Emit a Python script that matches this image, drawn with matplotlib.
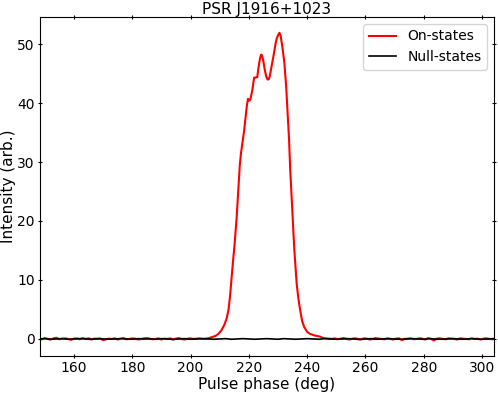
import numpy as np
import matplotlib
matplotlib.use("Agg")
import matplotlib.pyplot as plt

# On-pulse core of the on-state profile (phase in deg, intensity arb.)
core_phase = [206.0, 207.3, 208.5, 209.5, 210.5, 211.6, 212.4, 213.0, 213.5, 213.9,
              214.5, 215.1, 215.8, 216.4, 216.9, 217.3, 217.9, 218.4, 218.8, 219.3,
              219.7, 220.2, 220.5, 221.2, 221.8, 222.1, 222.9, 223.3, 223.8, 224.2,
              224.5, 224.9, 225.4, 225.9, 226.4, 226.8, 227.2, 227.8, 228.6, 229.2,
              229.6, 230.1, 230.5, 230.9, 231.5, 232.2, 232.8, 233.3, 233.8, 234.2,
              234.9, 235.6, 236.4, 237.0, 237.6, 238.3, 239.0, 240.0, 241.0, 242.5,
              244.4, 245.5]
core_on = [0.1, 0.3, 0.5, 0.85, 1.4, 2.4, 3.5, 4.9, 7.0, 9.4,
           12.8, 16.0, 20.5, 25.3, 29.5, 31.5, 33.7, 35.4, 37.2, 39.5,
           40.7, 40.4, 40.6, 42.2, 44.3, 44.3, 44.4, 46.0, 47.5, 48.2,
           48.1, 47.3, 45.8, 44.6, 44.0, 44.0, 44.6, 46.2, 48.4, 50.2,
           51.0, 51.6, 51.9, 51.4, 49.5, 46.7, 42.8, 38.3, 33.7, 28.6,
           21.9, 15.1, 9.4, 6.8, 4.9, 3.0, 2.0, 1.2, 0.85, 0.6,
           0.4, 0.15]

# Off-pulse baseline of the on-state profile, 1 deg steps
left_on = [0.05, -0.05, 0.15, 0.0, -0.1, 0.1, 0.2, -0.05, 0.05, 0.1,
           0.0, -0.15, 0.05, 0.1, -0.05, 0.15, 0.0, 0.1, -0.1, 0.05,
           0.0, 0.1, -0.2, -0.05, 0.05, 0.0, 0.1, -0.1, 0.05, 0.15,
           -0.05, 0.0, 0.1, 0.05, -0.1, 0.0, 0.1, 0.15, 0.05, -0.05,
           0.0, 0.1, -0.1, 0.05, 0.0, 0.1, -0.05, 0.05, 0.15, 0.0,
           -0.1, 0.05, 0.1, 0.0, 0.05, 0.1, 0.0, 0.05]
right_on = [0.1, 0.05, 0.0, 0.1, -0.05, 0.05, 0.15, 0.0, -0.1, 0.05,
            0.1, 0.0, -0.05, 0.1, 0.05, -0.1, 0.0, 0.15, 0.05, 0.0,
            -0.05, 0.1, 0.0, -0.1, 0.05, 0.1, -0.2, 0.0, 0.05, 0.1,
            -0.05, 0.0, 0.1, 0.05, -0.1, 0.15, 0.0, -0.25, 0.05, 0.1,
            0.0, -0.05, 0.1, 0.05, 0.0, -0.1, 0.1, 0.05, 0.0, -0.05,
            0.1, 0.0, 0.05, -0.1, 0.05, 0.1, 0.0, -0.05, 0.05, 0.0]

# Null-state profile, 2 deg steps
null_vals = [0.0, 0.05, -0.05, 0.0, 0.05, -0.05, 0.0, 0.05, 0.0, -0.05,
             0.05, 0.0, -0.05, 0.0, 0.05, 0.0, -0.05, 0.05, 0.0, 0.0,
             -0.05, 0.05, 0.0, -0.1, 0.0, 0.05, -0.05, 0.0, 0.05, 0.0,
             -0.05, 0.0, 0.05, -0.05, 0.0, 0.05, 0.0, -0.05, 0.0, 0.05,
             0.0, -0.05, 0.05, 0.0, -0.05, 0.0, 0.05, 0.0, -0.05, 0.05,
             0.0, -0.05, 0.0, 0.05, 0.0, -0.1, 0.0, 0.05, -0.05, 0.0,
             0.05, 0.0, -0.05, 0.0, 0.05, 0.0, -0.05, 0.05, 0.0, -0.05,
             0.0, 0.05, 0.0, -0.05, 0.05, 0.0, -0.05, 0.0, 0.05, 0.0]

left_phase = 148.0 + np.arange(len(left_on))
right_phase = 246.5 + np.arange(len(right_on))
on_phase = np.concatenate([left_phase, core_phase, right_phase])
on_int = np.concatenate([left_on, core_on, right_on])
null_phase = 148.0 + 2.0 * np.arange(len(null_vals))

fig = plt.figure(figsize=(4.98, 3.93), dpi=100)
ax = fig.add_axes([0.080, 0.094, 0.912, 0.863])
ax.plot(on_phase, on_int, color="red", lw=1.5, label="On-states")
ax.plot(null_phase, null_vals, color="black", lw=1.2, label="Null-states")
ax.set_xlim(148.3, 304.1)
ax.set_ylim(-2.9, 54.6)
ax.set_xticks([160, 180, 200, 220, 240, 260, 280, 300])
ax.set_yticks([0, 10, 20, 30, 40, 50])
ax.tick_params(direction="inout", top=True, right=True, labelsize=10, pad=2)
ax.set_xlabel("Pulse phase (deg)", fontsize=11, labelpad=1)
ax.set_ylabel("Intensity (arb.)", fontsize=11, labelpad=1)
ax.set_title("PSR J1916+1023", fontsize=11, pad=2)
ax.legend(loc="upper right", fontsize=10)
fig.savefig("out.png", dpi=100)
